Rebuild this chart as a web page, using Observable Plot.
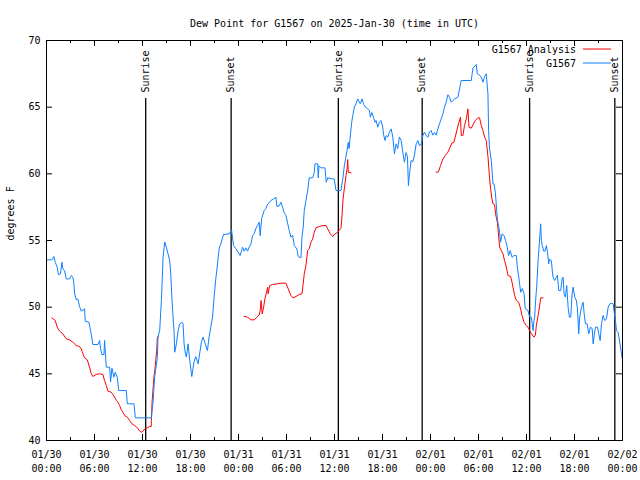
<!DOCTYPE html>
<html>
<head>
<meta charset="utf-8">
<script src="https://cdn.jsdelivr.net/npm/d3@7"></script>
<script src="https://cdn.jsdelivr.net/npm/@observablehq/plot@0.6"></script>
<style>
  html, body { margin: 0; padding: 0; background: white; }
  #chart { width: 640px; height: 480px; }
</style>
</head>
<body>
<div id="chart"></div>
<script>
// ---- Data (hours since 2025-01-30 00:00 UTC, dew point °F) ----
const title = "Dew Point for G1567 on 2025-Jan-30 (time in UTC)";
const yLabel = "degrees F";
const seriesNames = ["G1567 Analysis", "G1567"];
const seriesColors = ["#ff0000", "#0f80ff"];
const yTicks = [40, 45, 50, 55, 60, 65, 70];
const startDate = Date.UTC(2025, 0, 30);
const spanHours = 72;

// G1567 station observations
const obs = [
  [0.08,53.55],[0.67,53.55],[0.92,53.8],[1.09,53.37],[1.34,53.0],[1.50,52.43],[1.75,52.5],[1.92,53.37],
  [2.05,52.87],[2.25,52.75],[2.46,52.12],[2.88,52.12],[3.09,52.37],[3.30,52.25],[3.42,51.75],[3.51,51.05],
  [3.72,50.55],[3.92,50.62],[4.13,50.05],[4.34,49.7],[4.76,49.87],[4.84,48.95],[5.30,48.87],[5.51,48.25],
  [5.80,47.2],[6.43,47.2],[6.64,47.5],[6.76,46.87],[6.93,46.45],[7.18,46.45],[7.26,47.5],[7.47,45.5],
  [7.89,45.5],[8.01,44.4],[8.18,45.42],[8.43,44.75],[8.60,45.12],[8.85,44.75],[9.02,43.75],[9.98,43.75],
  [10.10,42.75],[10.94,42.75],[11.10,41.7],[13.11,41.7],[13.31,42.87],[13.52,44.75],[13.86,46.25],[13.94,47.8],
  [14.15,48.25],[14.36,50.5],[14.48,52.25],[14.57,53.75],[14.78,54.88],[14.98,54.5],[15.19,54.0],[15.40,53.5],
  [15.53,52.5],[15.69,50.5],[15.82,49.25],[15.94,48.25],[16.03,46.62],[16.24,47.25],[16.45,48.25],[16.65,48.75],
  [16.95,48.87],[17.07,48.75],[17.20,47.25],[17.36,46.5],[17.49,46.25],[17.70,47.25],[17.91,46.0],[18.12,45.0],
  [18.16,44.8],[18.44,45.9],[18.66,46.3],[18.95,45.75],[19.37,47.4],[19.57,47.75],[20.12,46.75],[20.32,47.75],
  [20.54,48.5],[20.75,49.25],[20.95,50.75],[21.16,52.1],[21.38,53.25],[21.58,54.4],[21.79,54.75],[22.13,55.45],
  [22.83,55.5],[23.13,55.8],[23.38,54.62],[23.67,54.4],[24.20,53.87],[24.51,54.5],[24.71,54.2],[24.92,54.45],
  [25.13,54.2],[25.33,54.5],[25.54,54.7],[25.76,55.37],[25.96,55.5],[26.17,55.9],[26.38,56.1],[26.58,56.37],
  [26.71,55.37],[26.89,56.62],[27.21,57.25],[27.42,57.4],[27.63,57.7],[28.05,58.0],[28.39,58.12],[28.68,58.25],
  [28.80,57.55],[29.09,57.6],[29.30,57.87],[29.51,57.5],[29.71,57.1],[29.93,56.87],[30.14,56.3],[30.34,55.75],
  [30.55,55.25],[30.77,55.4],[30.97,54.62],[31.30,54.37],[31.47,53.8],[31.81,53.7],[31.93,55.25],[32.09,56.0],
  [32.22,57.25],[32.43,58.0],[32.64,58.7],[32.84,59.7],[33.27,59.7],[33.47,60.1],[33.56,60.75],[33.90,60.75],
  [33.97,59.7],[34.06,60.6],[34.31,60.45],[34.81,60.45],[34.97,59.37],[35.15,59.7],[35.97,59.6],[36.19,58.75],
  [36.81,58.75],[37.03,59.6],[37.23,60.6],[37.57,61.75],[37.73,62.37],[37.82,61.9],[37.98,62.87],[38.15,63.87],
  [38.28,64.37],[38.48,65.0],[38.69,65.25],[38.90,65.62],[39.07,65.4],[39.23,65.25],[39.44,65.62],[39.66,65.2],
  [39.86,65.0],[40.16,64.87],[40.36,64.75],[40.49,64.25],[40.66,64.6],[40.86,64.25],[41.07,63.87],[41.20,64.0],
  [41.41,63.5],[41.61,63.87],[41.82,64.0],[42.03,63.5],[42.16,62.87],[42.32,62.5],[42.45,62.87],[42.66,62.75],
  [42.86,63.12],[43.08,63.37],[43.29,62.75],[43.49,61.5],[43.70,62.25],[43.91,61.9],[44.11,62.75],[44.33,62.5],
  [44.54,61.62],[44.74,60.87],[44.95,61.6],[45.12,61.3],[45.24,59.12],[45.37,60.0],[45.58,61.0],[45.79,60.9],
  [45.99,61.4],[46.21,62.25],[46.42,62.5],[46.62,62.1],[46.83,62.25],[47.04,62.87],[47.25,63.12],[47.46,62.87],
  [47.67,62.75],[47.87,63.12],[48.08,63.25],[48.29,62.9],[48.50,63.1],[48.71,62.9],[48.92,63.37],[49.12,63.75],
  [49.34,64.12],[49.55,64.5],[49.75,65.0],[49.96,65.37],[50.17,65.93],[50.38,65.75],[50.59,65.37],[50.80,65.5],
  [51.01,65.62],[51.43,65.75],[51.63,66.37],[51.84,67.0],[53.09,67.0],[53.31,67.93],[53.72,68.2],[53.85,67.5],
  [54.13,67.4],[54.34,67.25],[54.56,66.87],[54.76,67.3],[54.97,67.5],[55.18,66.0],[55.26,63.25],[55.38,61.87],
  [55.60,61.0],[55.81,59.25],[55.94,59.25],[56.10,58.62],[56.22,57.75],[56.35,56.62],[56.51,56.12],[56.64,55.62],
  [56.76,54.87],[56.94,55.5],[57.19,55.37],[57.39,55.0],[57.60,54.5],[57.76,53.87],[57.97,54.25],[58.19,53.75],
  [58.44,53.87],[58.73,53.87],[58.85,53.0],[59.02,52.3],[59.14,51.75],[59.27,51.12],[59.48,51.4],[59.69,51.0],
  [59.85,49.87],[60.19,49.75],[60.39,49.25],[60.61,49.25],[60.82,48.25],[60.94,49.0],[61.02,49.25],[61.14,50.5],
  [61.27,51.5],[61.45,53.5],[61.57,54.5],[61.70,55.62],[61.77,56.25],[61.86,55.0],[61.98,54.62],[62.15,54.2],
  [62.32,54.2],[62.48,54.62],[62.61,54.2],[62.77,53.25],[62.90,53.6],[63.11,53.5],[63.20,52.87],[63.32,52.25],
  [63.52,52.0],[63.74,52.25],[63.86,52.4],[64.03,51.25],[64.28,51.25],[64.45,52.12],[64.58,52.25],[64.70,51.0],
  [64.86,50.75],[65.03,51.62],[65.20,50.0],[65.36,49.25],[65.53,49.25],[65.70,51.0],[65.83,51.5],[66.03,50.75],
  [66.24,50.5],[66.37,49.87],[66.53,48.0],[66.65,49.25],[66.87,50.0],[67.08,50.37],[67.21,49.5],[67.37,48.75],
  [67.58,48.75],[67.78,48.0],[67.99,48.5],[68.21,48.4],[68.33,47.25],[68.46,47.87],[68.62,48.5],[68.87,48.5],
  [69.03,48.0],[69.21,47.5],[69.37,48.75],[69.58,49.37],[69.78,49.0],[69.99,49.1],[70.21,50.0],[70.41,50.25],
  [70.62,50.3],[70.84,50.25],[70.96,49.62],[71.12,49.0],[71.25,48.25],[71.46,48.1],[71.66,47.37],[71.88,46.5],
  [71.94,46.2]
];

// G1567 Analysis (three pieces, gaps between them)
const analysis1 = [
  [0.66,49.2],[1.09,49.0],[1.34,48.5],[1.63,48.2],[2.04,48.0],[2.47,47.62],[2.88,47.55],[3.29,47.37],
  [3.72,47.12],[4.13,47.05],[4.35,46.87],[4.55,46.5],[4.76,46.2],[5.10,46.05],[5.38,45.5],[5.60,45.0],
  [5.80,44.8],[6.22,44.95],[6.64,45.0],[7.05,44.95],[7.26,44.5],[7.48,44.12],[7.68,43.7],[8.10,43.62],
  [8.30,43.45],[8.51,43.25],[8.73,43.0],[8.93,42.87],[9.14,42.62],[9.35,42.3],[9.55,42.12],[9.77,41.87],
  [10.11,41.75],[10.39,41.5],[10.68,41.25],[11.02,41.12],[11.36,40.95],[11.65,40.7],[11.86,40.62],[12.06,40.7],
  [12.27,40.87],[12.61,40.95],[12.90,41.05],[13.09,41.05],[13.11,41.5],[13.19,42.8],[13.44,44.87],[13.52,45.12],
  [13.65,46.0],[13.77,46.75],[13.86,47.75],[14.02,47.8]
];
const analysis2 = [
  [24.71,49.3],[25.13,49.25],[25.54,49.05],[25.96,49.05],[26.38,49.3],[26.58,49.4],[26.71,49.75],[26.83,50.5],
  [26.96,49.5],[27.14,50.0],[27.30,50.62],[27.46,51.0],[27.64,51.5],[27.71,51.0],[27.89,51.62],[28.26,51.7],
  [28.89,51.75],[29.30,51.8],[29.93,51.8],[30.22,51.37],[30.55,50.87],[30.80,50.7],[31.18,50.8],[31.59,50.95],
  [31.93,51.0],[32.06,51.62],[32.22,52.5],[32.43,53.12],[32.64,54.25],[32.84,54.37],[33.06,54.87],[33.27,55.12],
  [33.47,55.62],[33.68,55.95],[34.10,56.05],[34.52,56.12],[34.94,56.12],[35.15,55.87],[35.47,55.5],[35.78,55.3],
  [36.06,55.5],[36.40,55.62],[36.63,55.8],[36.81,55.92],[36.94,56.87],[37.07,58.12],[37.23,58.87],[37.44,59.87],
  [37.57,60.37],[37.65,61.07],[37.73,60.12],[38.07,60.07]
];
const analysis3 = [
  [48.71,60.12],[49.00,60.15],[49.25,60.62],[49.55,61.12],[49.84,61.37],[50.17,61.62],[50.46,62.0],[50.68,62.32],
  [50.93,62.37],[51.09,62.75],[51.34,63.37],[51.55,63.87],[51.75,64.25],[51.84,62.87],[52.05,62.87],[52.25,63.62],
  [52.47,64.12],[52.68,64.87],[52.81,63.5],[53.09,63.42],[53.31,63.67],[53.59,64.0],[53.93,64.2],[54.13,64.2],
  [54.35,63.62],[54.56,63.25],[54.76,62.75],[54.97,62.5],[55.18,61.3],[55.38,59.75],[55.51,58.87],[55.68,58.12],
  [55.81,57.75],[56.01,57.7],[56.14,57.0],[56.35,56.37],[56.44,55.87],[56.64,54.5],[56.85,54.25],[57.06,54.0],
  [57.26,53.5],[57.48,53.0],[57.69,52.37],[58.02,52.3],[58.19,51.87],[58.31,51.5],[58.52,50.87],[58.73,50.5],
  [59.02,50.37],[59.27,49.87],[59.44,49.37],[59.69,48.87],[59.98,48.62],[60.19,48.5],[60.39,48.25],[60.61,48.0],
  [60.94,47.75],[61.11,47.9],[61.23,48.62],[61.45,49.37],[61.65,50.12],[61.77,50.7],[62.07,50.7]
];

// Sunrise / sunset times (hours since start)
const sunHours = [12.40, 23.08, 36.48, 46.96, 60.39, 71.04];
const sunLabels = ["Sunrise", "Sunset", "Sunrise", "Sunset", "Sunrise", "Sunset"];

// ---- Build tables ----
const toDate = h => new Date(startDate + h * 3600e3);
const obsData = obs.map(([h, v]) => ({time: toDate(h), value: v}));
const anaData = [analysis1, analysis2, analysis3].flatMap((seg, i) =>
  seg.map(([h, v]) => ({time: toDate(h), value: v, seg: i})));
const sunData = sunHours.map((h, i) => ({time: toDate(h), label: sunLabels[i]}));
const labelTicks = d3.range(0, spanHours + 1, 6).map(toDate);
const minorTicks = d3.range(0, spanHours + 1, 3).filter(h => h % 6 !== 0).map(toDate);

const W = 640, H = 480, mL = 46, mR = 18, mT = 40, mB = 40;
const innerW = W - mL - mR, innerH = H - mT - mB;
const majorLen = 6, minorLen = 3;
const fmt = d3.utcFormat("%m/%d\n%H:%M");

const chart = Plot.plot({
  width: W, height: H,
  marginLeft: mL, marginRight: mR, marginTop: mT, marginBottom: mB,
  style: {fontFamily: "'DejaVu Sans Mono', monospace", fontSize: "10px", background: "white", color: "black"},
  x: {type: "utc", domain: [toDate(0), toDate(spanHours)]},
  y: {domain: [40, 70]},
  marks: [
    Plot.axisX(labelTicks, {tickSize: 0, tickPadding: 7, tickFormat: fmt, lineHeight: 1.45, label: null, fontSize: 10}),
    Plot.axisY(yTicks, {tickSize: 0, tickPadding: 6, label: null, fontSize: 10}),
    // inward ticks on all four sides
    Plot.tickX(labelTicks, {x: d => d, insetTop: innerH - majorLen, stroke: "black"}),
    Plot.tickX(labelTicks, {x: d => d, insetBottom: innerH - majorLen, stroke: "black"}),
    Plot.tickX(minorTicks, {x: d => d, insetTop: innerH - minorLen, stroke: "black"}),
    Plot.tickX(minorTicks, {x: d => d, insetBottom: innerH - minorLen, stroke: "black"}),
    Plot.tickY(yTicks, {y: d => d, insetRight: innerW - majorLen, stroke: "black"}),
    Plot.tickY(yTicks, {y: d => d, insetLeft: innerW - majorLen, stroke: "black"}),
    // sunrise / sunset
    Plot.ruleX(sunData, {x: "time", insetTop: 58, stroke: "black", strokeWidth: 1.3}),
    Plot.text(sunData, {x: "time", text: "label", frameAnchor: "top", dy: 52, rotate: -90,
      textAnchor: "start", lineAnchor: "middle", fill: "black", fontSize: 10}),
    // series
    Plot.line(anaData, {x: "time", y: "value", z: "seg", stroke: seriesColors[0], strokeWidth: 1}),
    Plot.line(obsData, {x: "time", y: "value", stroke: seriesColors[1], strokeWidth: 1}),
    Plot.frame({stroke: "black", strokeWidth: 1}),
    // title and y label
    Plot.text([title], {frameAnchor: "top", dy: -21, fontSize: 10, fill: "black"}),
    Plot.text([yLabel], {frameAnchor: "left", dx: -36, rotate: -90, fontSize: 10, fill: "black"})
  ]
});

// legend (top-right, inside the frame)
const svg = d3.select(chart);
const legend = svg.append("g").attr("font-family", "'DejaVu Sans Mono', monospace").attr("font-size", 10);
seriesNames.forEach((name, i) => {
  const yPos = mT + 9 + i * 14;
  legend.append("text").attr("x", W - mR - 46).attr("y", yPos).attr("text-anchor", "end")
    .attr("dy", "0.35em").attr("fill", "black").text(name);
  legend.append("line").attr("x1", W - mR - 39).attr("x2", W - mR - 11)
    .attr("y1", yPos).attr("y2", yPos).attr("stroke", seriesColors[i]).attr("stroke-width", 1);
});

document.getElementById("chart").appendChild(chart);
</script>
</body>
</html>
